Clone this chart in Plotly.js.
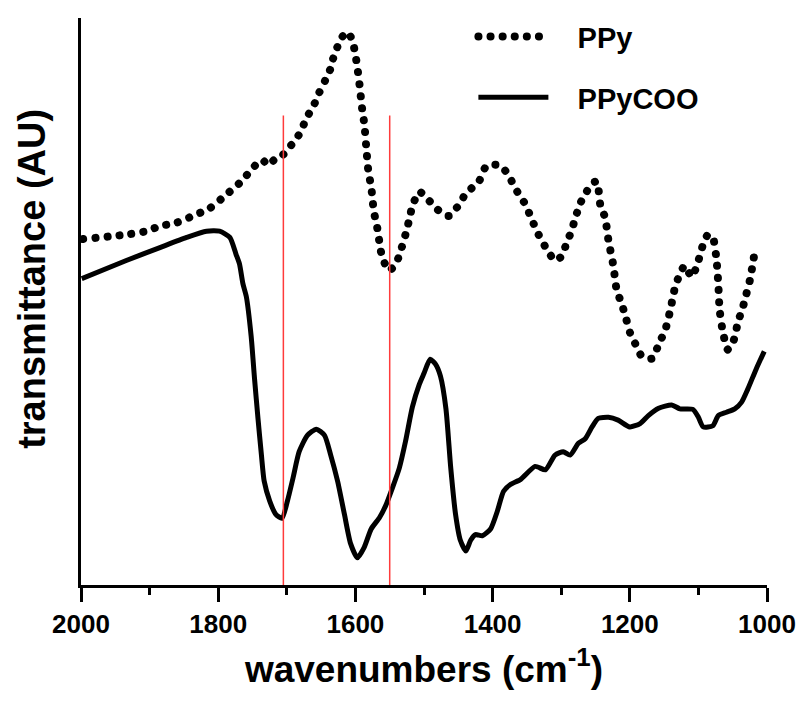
<!DOCTYPE html>
<html><head><meta charset="utf-8">
<script src="https://cdn.plot.ly/plotly-3.0.1.min.js"></script>
<style>body{margin:0;background:#fff}#chart{width:801px;height:706px}</style>
</head><body><div id="chart"></div>
<script>
// PPy (dotted)
const wnPPy = [1997,1934,1905,1885,1861,1837,1812,1788,1764,1750,1735,1728,1716,1706,1696,1686,1679,1672,1660,1653,1643,1636,1633,1628,1621,1611,1604,1600,1597,1594,1592,1590,1587,1584,1581,1577,1575,1573,1569,1566,1563,1558,1551,1541,1534,1527,1522,1517,1507,1498,1483,1464,1449,1439,1420,1410,1396,1386,1376,1364,1352,1343,1333,1321,1309,1299,1292,1285,1280,1272,1263,1255,1248,1243,1236,1231,1224,1219,1212,1205,1198,1190,1183,1168,1156,1149,1141,1137,1134,1127,1120,1110,1103,1098,1093,1086,1079,1074,1071,1069,1064,1057,1049,1042,1035,1030,1025,1022,1019];
const tPPy = [60.8,61.6,62.2,63.1,63.7,64.9,66.3,68.7,71.3,73.4,74.8,73.9,75.1,75.7,77.1,78.6,80.0,82.1,84.7,86.7,89.2,91.1,92.6,94.3,96.4,97.5,95.8,93.5,91.1,88.2,85.9,83.7,81.2,76.8,72.7,70.1,67.8,65.6,63.4,61.1,58.7,56.7,55.2,56.4,58.7,61.6,64.0,66.6,69.2,68.4,66.3,64.9,66.9,68.9,71.0,73.6,74.0,73.6,71.9,69.2,66.9,64.3,61.6,59.0,57.0,57.8,60.2,62.2,64.3,67.2,69.2,70.7,71.0,66.9,64.6,60.5,56.1,51.7,49.4,46.5,43.6,41.8,40.1,39.6,42.7,44.4,48.2,50.6,52.3,54.6,56.1,54.1,55.8,57.8,59.9,61.6,61.1,57.6,52.9,48.2,44.1,41.2,42.7,46.2,48.8,51.1,53.5,55.5,57.7];
// PPyCOO (solid)
const wnCOO = [1999,1934,1885,1846,1817,1798,1783,1774,1769,1764,1759,1752,1747,1742,1737,1733,1725,1716,1707,1699,1691,1682,1670,1657,1645,1636,1626,1616,1607,1597,1587,1577,1565,1556,1546,1536,1527,1517,1507,1500,1491,1483,1476,1468,1461,1454,1447,1439,1432,1425,1415,1403,1393,1384,1374,1359,1338,1323,1309,1297,1287,1275,1265,1255,1246,1231,1217,1200,1185,1173,1158,1139,1127,1108,1100,1093,1079,1071,1059,1047,1037,1028,1016,1004];
const tCOO = [53.8,57.0,59.3,61.1,62.2,62.2,61.1,58.1,56.4,52.9,50.6,43.6,36.0,29.0,22.5,17.9,14.4,12.0,11.3,14.4,18.4,23.1,26.0,27.1,26.0,22.5,17.9,12.0,6.8,4.3,6.2,9.4,11.4,13.5,16.7,20.2,24.9,31.0,35.0,37.0,39.5,38.6,36.5,30.7,20.2,12.0,7.4,5.5,7.4,8.4,8.2,9.4,12.6,16.1,17.3,18.2,20.5,19.9,22.5,23.1,22.5,24.6,25.4,27.5,29.0,29.2,28.7,27.5,28.1,29.5,30.8,31.4,30.7,30.6,29.2,27.5,27.7,29.5,30.1,30.7,31.9,34.2,37.7,40.9];
// red marker lines
const markerWn = [1705, 1550];
const markerTop = 82.7;
const xTicks = [2000, 1800, 1600, 1400, 1200, 1000];
const xTickText = ['2000', '1800', '1600', '1400', '1200', '1000'];
const seriesNames = ['PPy', 'PPyCOO'];

const FONT = 'Liberation Sans, Arial, sans-serif';
const PAD = '\u00a0\u00a0\u00a0';

const traces = [
  {x: wnPPy, y: tPPy, name: PAD + seriesNames[0], mode: 'lines', legendgroup: 'a',
   line: {color: '#000', width: 8, dash: '0.1px,12px', shape: 'spline', smoothing: 0.6}},
  {x: wnCOO, y: tCOO, name: PAD + seriesNames[1], mode: 'lines', legendgroup: 'b',
   line: {color: '#000', width: 5, shape: 'spline', smoothing: 0.6}}
];

const shapes = markerWn.map(w => ({type: 'line', xref: 'x', yref: 'y', x0: w, x1: w, y0: -0.53, y1: markerTop,
  line: {color: '#ff3b3b', width: 1.5}, layer: 'above'}));

const layout = {
  width: 801, height: 706,
  margin: {l: 81, r: 34, t: 11, b: 121},
  paper_bgcolor: '#fff', plot_bgcolor: '#fff',
  showlegend: true,
  legend: {x: 0.572, y: 1.012, xanchor: 'left', yanchor: 'top', itemwidth: 70,
    font: {family: FONT, size: 29, weight: 'bold', color: '#000'},
    tracegroupgap: 20, traceorder: 'grouped', bgcolor: 'rgba(0,0,0,0)'},
  xaxis: {range: [2000, 1000], autorange: false, showgrid: false, zeroline: false,
    showline: true, linecolor: '#000', linewidth: 3, mirror: false,
    ticks: 'outside', ticklen: 14, tickwidth: 3, tickcolor: '#000',
    tickvals: xTicks, ticktext: xTickText,
    minor: {ticks: 'outside', ticklen: 7, tickwidth: 3, tickcolor: '#000', dtick: 100},
    tickfont: {family: FONT, size: 26, weight: 'bold', color: '#000'},
    title: {text: 'wavenumbers (cm<sup>-1</sup>)', font: {family: FONT, size: 37, weight: 'bold', color: '#000'}, standoff: 18}},
  yaxis: {range: [-0.53, 100], autorange: false, showgrid: false, zeroline: false,
    showline: true, linecolor: '#000', linewidth: 3, showticklabels: false, ticks: ''},
  annotations: [{text: 'transmittance (AU)', xref: 'paper', yref: 'paper', x: -0.0714, y: 0.54,
    xanchor: 'center', yanchor: 'middle', textangle: -90, showarrow: false,
    font: {family: FONT, size: 38, weight: 'bold', color: '#000'}}],
  shapes: shapes
};

Plotly.newPlot('chart', traces, layout, {staticPlot: true}).then(() => {
  document.querySelectorAll('#chart path').forEach(p => {
    const da = p.style.strokeDasharray || '';
    if (da.indexOf('0.1') === 0) p.style.strokeLinecap = 'round';
  });
});
</script></body></html>
